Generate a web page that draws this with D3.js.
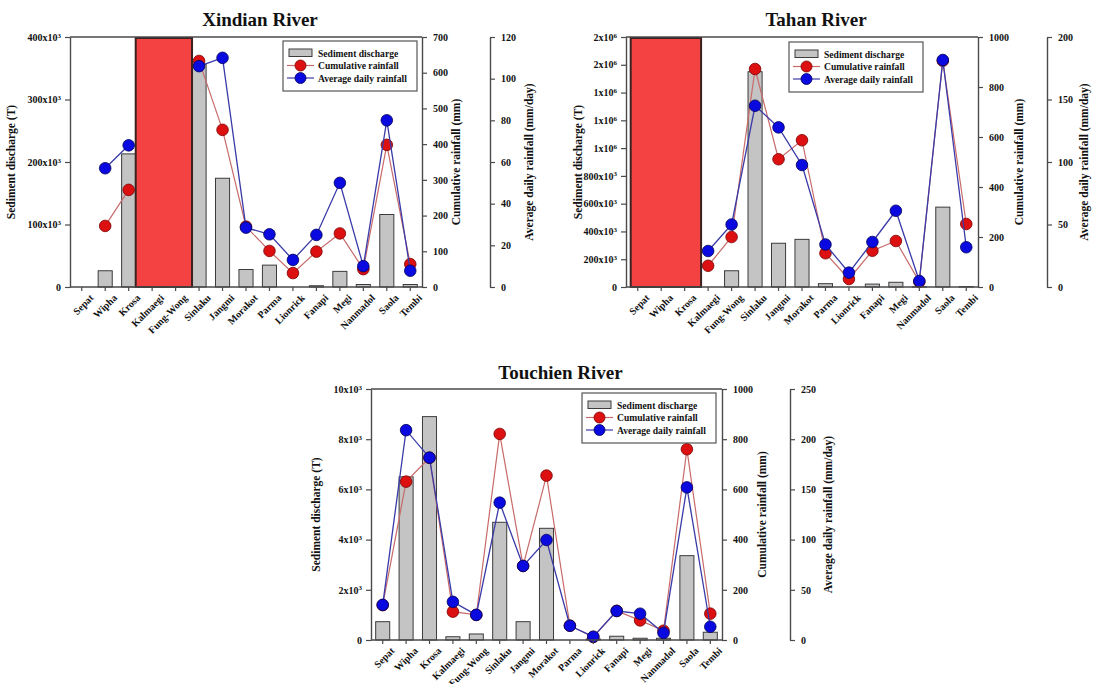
<!DOCTYPE html>
<html>
<head>
<meta charset="utf-8">
<script src="https://cdn.jsdelivr.net/npm/d3@7"></script>
<style>
  html, body { margin: 0; padding: 0; background: #fff; }
  svg { display: block; font-family: "Liberation Serif", "Times New Roman", serif; }
</style>
</head>
<body>
<svg id="chart" width="1097" height="684"></svg>
<script>
// Typhoon events shared by all three catchments
const categories = ["Sepat", "Wipha", "Krosa", "Kalmaegi", "Fung-Wong", "Sinlaku", "Jangmi",
  "Morakot", "Parma", "Lionrick", "Fanapi", "Megi", "Nanmadol", "Saola", "Tembi"];

// Xindian River
const xindianSediment = [null, 26000, 213000, null, null, 356000, 174000, 28000, 35000, null, 2000, 25000, 4000, 116000, 4000];
const xindianCumulative = [null, 171, 272, null, null, 633, 440, 169, 101, 39, 99, 150, 50, 398, 64];
const xindianDaily = [null, 57, 68, null, null, 106, 110, 28.5, 25.3, 13, 25, 50, 10, 80, 7.8];
const xindianNoData = ["Kalmaegi", "Fung-Wong"];
const xindianSedTicks = [0, 100000, 200000, 300000, 400000];
const xindianSedLabels = ["0", "100x10^3", "200x10^3", "300x10^3", "400x10^3"];
const xindianCumTicks = [0, 100, 200, 300, 400, 500, 600, 700];
const xindianDailyTicks = [0, 20, 40, 60, 80, 100, 120];

// Tahan River
const tahanSediment = [null, null, null, null, 117000, 1550000, 315000, 343000, 24000, null, 21000, 34000, 2000, 575000, 3000];
const tahanCumulative = [null, null, null, 85, 200, 872, 511, 587, 135, 32, 145, 184, 21, 905, 252];
const tahanDaily = [null, null, null, 28.8, 50, 145, 127.7, 97.6, 34, 11.5, 36, 61, 4.8, 181.6, 31.8];
const tahanNoData = ["Sepat", "Wipha", "Krosa"];
const tahanSedTicks = [0, 200000, 400000, 600000, 800000, 1000000, 1200000, 1400000, 1600000, 1800000];
const tahanSedLabels = ["0", "200x10^3", "400x10^3", "600x10^3", "800x10^3", "1x10^6", "1x10^6", "1x10^6", "2x10^6", "2x10^6"];
const tahanCumTicks = [0, 200, 400, 600, 800, 1000];
const tahanDailyTicks = [0, 50, 100, 150, 200];

// Touchien River
const touchienSediment = [730, 6500, 8900, 130, 240, 4690, 730, 4450, null, 40, 150, 70, 70, 3360, 310];
const touchienCumulative = [139, 631, 726, 113, 100, 821, 295, 655, 57, 12, 116, 78, 37, 760, 105];
const touchienDaily = [35, 209, 181.6, 38, 25, 136.8, 73.7, 99.6, 14.2, 3.3, 28.9, 26.2, 7, 152, 13.2];
const touchienNoData = [];
const touchienSedTicks = [0, 2000, 4000, 6000, 8000, 10000];
const touchienSedLabels = ["0", "2x10^3", "4x10^3", "6x10^3", "8x10^3", "10x10^3"];
const touchienCumTicks = [0, 200, 400, 600, 800, 1000];
const touchienDailyTicks = [0, 50, 100, 150, 200, 250];

const legendItems = ["Sediment discharge", "Cumulative rainfall", "Average daily rainfall"];

const panels = [
  { title: "Xindian River", sed: xindianSediment, cum: xindianCumulative, daily: xindianDaily,
    noData: xindianNoData, sedTicks: xindianSedTicks, sedLabels: xindianSedLabels,
    cumTicks: xindianCumTicks, dailyTicks: xindianDailyTicks,
    x0: 70, x1: 422, y0: 37, y1: 287, ax2: 490, titleY: 26, lt: -55, rt1: 38, rt2: 43,
    legendX: 283, legendY: 41 },
  { title: "Tahan River", sed: tahanSediment, cum: tahanCumulative, daily: tahanDaily,
    noData: tahanNoData, sedTicks: tahanSedTicks, sedLabels: tahanSedLabels,
    cumTicks: tahanCumTicks, dailyTicks: tahanDailyTicks,
    x0: 626, x1: 978, y0: 37, y1: 287, ax2: 1047, titleY: 26, lt: -44, rt1: 45, rt2: 41,
    legendX: 789, legendY: 42 },
  { title: "Touchien River", sed: touchienSediment, cum: touchienCumulative, daily: touchienDaily,
    noData: touchienNoData, sedTicks: touchienSedTicks, sedLabels: touchienSedLabels,
    cumTicks: touchienCumTicks, dailyTicks: touchienDailyTicks,
    x0: 371, x1: 722, y0: 389, y1: 640, ax2: 790, titleY: 379, lt: -51, rt1: 44, rt2: 42,
    legendX: 582, legendY: 393 }
];

const AXIS = "#4a4a4a";
const BAR_FILL = "#c4c4c4";
const RED = "#dc1010", RED_LINE = "#c86a6a";
const BLUE = "#0a0ae0", BLUE_LINE = "#3a3aa8";

const svg = d3.select("#chart");

// Writes labels such as "400x10^3" as base text plus a raised exponent
function powerLabel(textSel, label) {
  textSel.text(null);
  const parts = label.split("^");
  textSel.append("tspan").text(parts[0]);
  if (parts[1]) {
    textSel.append("tspan").attr("dy", "-0.45em").attr("font-size", "7px").text(parts[1]);
  }
}

function styleAxis(g) {
  g.selectAll("path.domain").attr("stroke", AXIS).attr("stroke-width", 1.4);
  g.selectAll(".tick line").attr("stroke", AXIS).attr("stroke-width", 1.2);
  g.selectAll(".tick text").attr("fill", "#111").attr("font-weight", "bold").attr("font-size", "10px")
    .attr("font-family", "Liberation Serif, serif");
}

panels.forEach(p => {
  const g = svg.append("g");

  const x = d3.scaleBand().domain(categories).range([p.x0, p.x1]).paddingInner(0.4).paddingOuter(0.2);
  const bw = x.bandwidth();
  const ySed = d3.scaleLinear().domain([0, d3.max(p.sedTicks)]).range([p.y1, p.y0]);
  const yCum = d3.scaleLinear().domain([0, d3.max(p.cumTicks)]).range([p.y1, p.y0]);
  const yDaily = d3.scaleLinear().domain([0, d3.max(p.dailyTicks)]).range([p.y1, p.y0]);

  // Title
  g.append("text").attr("x", (p.x0 + p.x1) / 2 + 14).attr("y", p.titleY)
    .attr("text-anchor", "middle").attr("font-size", "19px").attr("font-weight", "bold")
    .attr("fill", "#111").text(p.title);

  // Sediment bars
  const rows = categories.map((c, i) => ({ c, sed: p.sed[i], cum: p.cum[i], daily: p.daily[i] }));
  g.append("g").selectAll("rect").data(rows.filter(d => d.sed != null)).join("rect")
    .attr("x", d => x(d.c)).attr("width", bw)
    .attr("y", d => ySed(d.sed)).attr("height", d => ySed(0) - ySed(d.sed))
    .attr("fill", BAR_FILL).attr("stroke", "#3c3c3c").attr("stroke-width", 1);

  // Events without sediment record: shaded block
  if (p.noData.length) {
    const first = categories.indexOf(p.noData[0]);
    const last = categories.indexOf(p.noData[p.noData.length - 1]);
    const left = first > 0 ? x(categories[first - 1]) + bw : x(categories[first]);
    const right = last < categories.length - 1 ? x(categories[last + 1]) : x(categories[last]) + bw;
    g.append("rect").attr("x", left).attr("y", p.y0 + 1)
      .attr("width", right - left).attr("height", p.y1 - p.y0 - 1)
      .attr("fill", "#f44242").attr("stroke", "#3a2222").attr("stroke-width", 2);
  }

  // Frame top edge
  g.append("line").attr("x1", p.x0).attr("x2", p.x1).attr("y1", p.y0).attr("y2", p.y0)
    .attr("stroke", AXIS).attr("stroke-width", 1.4);

  // Rainfall series
  const cx = d => x(d.c) + bw / 2;
  const cumLine = d3.line().defined(d => d.cum != null).x(cx).y(d => yCum(d.cum));
  const dailyLine = d3.line().defined(d => d.daily != null).x(cx).y(d => yDaily(d.daily));

  g.append("path").datum(rows).attr("d", cumLine).attr("fill", "none")
    .attr("stroke", RED_LINE).attr("stroke-width", 1.2);
  g.append("g").selectAll("circle").data(rows.filter(d => d.cum != null)).join("circle")
    .attr("cx", cx).attr("cy", d => yCum(d.cum)).attr("r", 5.8)
    .attr("fill", RED).attr("stroke", "#7a0000").attr("stroke-width", 0.8);

  g.append("path").datum(rows).attr("d", dailyLine).attr("fill", "none")
    .attr("stroke", BLUE_LINE).attr("stroke-width", 1.3);
  g.append("g").selectAll("circle").data(rows.filter(d => d.daily != null)).join("circle")
    .attr("cx", cx).attr("cy", d => yDaily(d.daily)).attr("r", 5.8)
    .attr("fill", BLUE).attr("stroke", "#00005a").attr("stroke-width", 0.8);

  // Left axis: sediment discharge
  const gl = g.append("g").attr("transform", `translate(${p.x0},0)`)
    .call(d3.axisLeft(ySed).tickValues(p.sedTicks).tickSize(5).tickSizeOuter(0).tickPadding(4));
  styleAxis(gl);
  gl.selectAll(".tick text").each(function (d, i) { powerLabel(d3.select(this), p.sedLabels[i]); });

  // Bottom axis: events
  const gb = g.append("g").attr("transform", `translate(0,${p.y1})`)
    .call(d3.axisBottom(x).tickSize(4).tickSizeOuter(0));
  styleAxis(gb);
  gb.select("path.domain").attr("d", `M${p.x0},0H${p.x1}`);
  gb.selectAll(".tick text").attr("font-size", "10px").attr("text-anchor", "end")
    .attr("transform", "translate(4,3) rotate(-45)").attr("dy", "0.5em").attr("dx", "0");

  // Right axis: cumulative rainfall
  const gr = g.append("g").attr("transform", `translate(${p.x1},0)`)
    .call(d3.axisRight(yCum).tickValues(p.cumTicks).tickFormat(d3.format("d"))
      .tickSize(5).tickSizeOuter(0).tickPadding(6));
  styleAxis(gr);

  // Offset right axis: average daily rainfall
  const gr2 = g.append("g").attr("transform", `translate(${p.ax2},0)`)
    .call(d3.axisRight(yDaily).tickValues(p.dailyTicks).tickFormat(d3.format("d"))
      .tickSize(5).tickSizeOuter(0).tickPadding(6));
  styleAxis(gr2);

  // Axis titles
  const axisTitle = (xPos, text) => g.append("text")
    .attr("transform", `translate(${xPos},${(p.y0 + p.y1) / 2}) rotate(-90)`)
    .attr("text-anchor", "middle").attr("font-size", "11.5px").attr("font-weight", "bold")
    .attr("fill", "#111").text(text);
  axisTitle(p.x0 + p.lt, "Sediment discharge (T)");
  axisTitle(p.x1 + p.rt1, "Cumulative rainfall (mm)");
  axisTitle(p.ax2 + p.rt2, "Average daily rainfall (mm/day)");

  // Legend
  const lw = 134, lh = 50;
  const lg = g.append("g").attr("transform", `translate(${p.legendX},${p.legendY})`);
  lg.append("rect").attr("width", lw).attr("height", lh).attr("fill", "#fff")
    .attr("stroke", "#555").attr("stroke-width", 1.2);
  const rowY = [12, 24.5, 37];
  lg.append("rect").attr("x", 6).attr("y", rowY[0] - 4).attr("width", 23).attr("height", 7.5)
    .attr("fill", BAR_FILL).attr("stroke", "#3c3c3c");
  [[RED_LINE, RED, "#7a0000"], [BLUE_LINE, BLUE, "#00005a"]].forEach((c, i) => {
    const yy = rowY[i + 1];
    lg.append("line").attr("x1", 4).attr("x2", 31).attr("y1", yy).attr("y2", yy)
      .attr("stroke", c[0]).attr("stroke-width", 1.2);
    lg.append("circle").attr("cx", 17.5).attr("cy", yy).attr("r", 5.5)
      .attr("fill", c[1]).attr("stroke", c[2]).attr("stroke-width", 0.8);
  });
  lg.selectAll("text.item").data(legendItems).join("text").attr("class", "item")
    .attr("x", 35).attr("y", (d, i) => rowY[i] + 3.5)
    .attr("font-size", "9.6px").attr("font-weight", "bold").attr("fill", "#111").text(d => d);
});
</script>
</body>
</html>
